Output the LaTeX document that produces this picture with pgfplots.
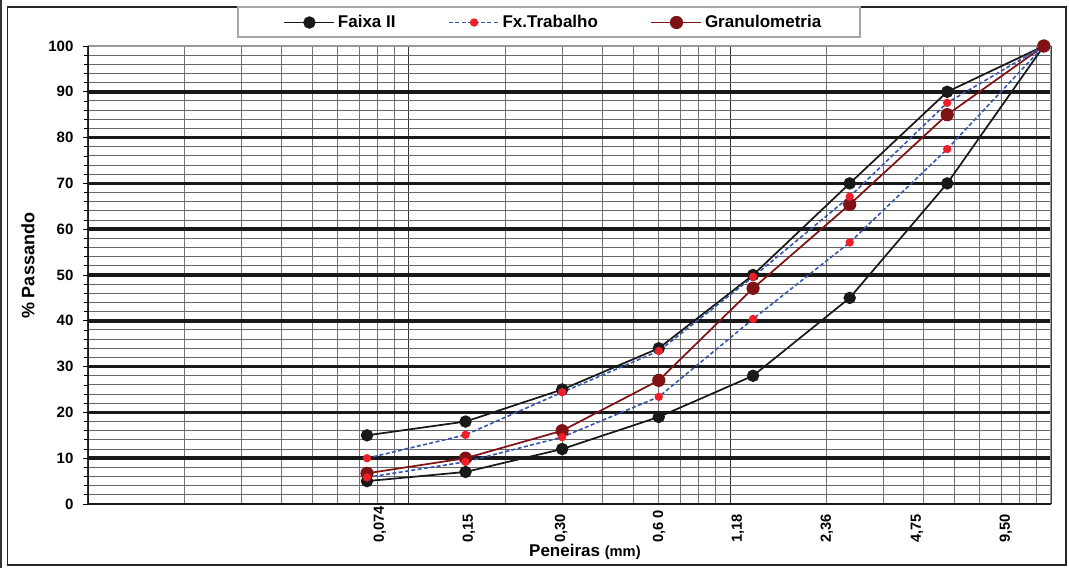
\documentclass[border=0pt]{standalone}
\usepackage{fontspec}
\setmainfont{Liberation Sans}
\usepackage{pgfplots}
\pgfplotsset{compat=1.18}
\definecolor{dred}{RGB}{128,18,22}
\definecolor{bred}{RGB}{240,30,40}
\definecolor{dblue}{RGB}{55,85,175}
\definecolor{blk}{RGB}{25,25,25}
\pgfplotsset{
  faixa/.style={blk, line width=1.3pt, mark=*, mark size=4pt, mark options={fill=blk, draw=blk, solid}},
  granu/.style={dred, line width=1.3pt, mark=*, mark size=4.3pt, mark options={fill=dred, draw=dred, solid}},
  trab/.style={dblue, line width=1.2pt, dash pattern=on 3pt off 1.8pt, mark=*, mark size=2.5pt, mark options={fill=bred, draw=bred, solid}},
}
\begin{document}
\begin{tikzpicture}
\useasboundingbox (0pt,0pt) rectangle (801.75pt,426pt);
\fill[white] (0pt,0pt) rectangle (801.75pt,426pt);
\draw[black!85, line width=1.2pt] (5.6pt,2.25pt) rectangle (799.5pt,420.75pt);
\draw[black!80, line width=0.8pt] (0.75pt,0pt) -- (0.75pt,426pt);
\draw[black!35, line width=1.2pt, fill=white] (178.5pt,398.25pt) rectangle (645pt,420.75pt);
\begin{axis}[
  at={(66pt,48pt)}, anchor=south west,
  scale only axis, width=722.25pt, height=343.5pt,
  xmode=log, xmin=0.01, xmax=10, ymin=0, ymax=100,
  axis line style={draw=none},
  xtick={0.01,0.1,1,10}, xticklabels={},
  minor xtick={0.02,0.03,0.04,0.05,0.06,0.07,0.08,0.09,0.2,0.3,0.4,0.5,0.6,0.7,0.8,0.9,2,3,4,5,6,7,8,9},
  xtick style={draw=none},
  xmajorgrids=true, xminorgrids=true,
  major x grid style={black!80, line width=0.75pt},
  minor x grid style={black!55, line width=0.7pt},
  ytick={10,20,...,90},
  extra y ticks={0,100},
  extra y tick style={grid=none},
  minor ytick={2,4,...,98},
  ymajorgrids=true, yminorgrids=true,
  major y grid style={black!90, line width=2.6pt},
  minor y grid style={black!60, line width=0.7pt},
  ytick pos=left, tick align=outside,
  major tick length=3.75pt, minor tick length=3pt,
  ytick style={black, line width=0.6pt},
  yticklabel style={font=\bfseries\fontsize{11.25}{13}\selectfont, anchor=east, inner sep=0pt},
  yticklabel shift=7pt,
  /pgf/number format/assume math mode=true,
  extra x ticks={0.0812,0.1538,0.2976,0.601,1.059,2.005,3.826,7.24},
  extra x tick labels={{0,074},{0,15},{0,30},{0,6 0},{1,18},{2,36},{4,75},{9,50}},
  extra x tick style={grid=none, major tick length=0pt, xticklabel style={rotate=90, anchor=west, inner sep=0pt, font=\bfseries\fontsize{11}{13}\selectfont}},
  xticklabel shift=29.25pt,
  xlabel={Peneiras {\fontsize{11}{13}\selectfont(mm)}},
  xlabel style={at={(axis description cs:0.516,-0.1048)}, anchor=center, font=\bfseries\fontsize{12.75}{15}\selectfont},
  ylabel={\% Passando},
  ylabel style={at={(axis description cs:-0.0623,0.5197)}, anchor=center, rotate=0, font=\bfseries\fontsize{13.5}{16}\selectfont},
  legend columns=3,
  legend image code/.code={\draw[mark repeat=2,mark phase=2,#1] plot coordinates {(0pt,0pt) (18.75pt,0pt) (37.5pt,0pt)};},
  legend style={at={(axis description cs:0.2028,1.0513)}, anchor=west, draw=none, fill=none, inner xsep=0pt, inner ysep=0pt,
    font=\bfseries\fontsize{12.75}{15}\selectfont, /tikz/every even column/.append style={column sep=37.5pt}},
]
\addlegendimage{faixa}\addlegendentry{Faixa II}
\addlegendimage{trab}\addlegendentry{Fx.Trabalho}
\addlegendimage{granu}\addlegendentry{Granulometria}
% plot area borders
\draw[black!40, line width=2.2pt] (rel axis cs:0,1) -- (rel axis cs:1,1);
\draw[black!40, line width=0.8pt] (rel axis cs:1,0) -- (rel axis cs:1,1);
\draw[black!45, line width=2pt] ([yshift=-0.9pt]rel axis cs:0,0) -- ([yshift=-0.9pt]rel axis cs:1,0);
\draw[blk, line width=0.8pt] (rel axis cs:0,0) -- (rel axis cs:1,0);
\draw[blk, line width=0.8pt] (rel axis cs:0,0) -- (rel axis cs:0,1);
% Faixa II
\addplot[faixa, forget plot] coordinates {(0.074,15) (0.15,18) (0.3,25) (0.6,34) (1.18,50) (2.36,70) (4.75,90) (9.5,100)};
\addplot[faixa, forget plot] coordinates {(0.074,5) (0.15,7) (0.3,12) (0.6,19) (1.18,28) (2.36,45) (4.75,70) (9.5,100)};
% Granulometria
\addplot[granu, forget plot] coordinates {(0.074,6.7) (0.15,10) (0.3,16) (0.6,27) (1.18,47.1) (2.36,65.4) (4.75,85) (9.5,100)};
% Fx.Trabalho
\addplot[trab, forget plot, mark indices={1,2,3,4,5,6,7}] coordinates {(0.074,10) (0.15,15.1) (0.3,24.4) (0.6,33.4) (1.18,49.6) (2.36,67.1) (4.75,87.6) (9.5,100)};
\addplot[trab, forget plot, mark indices={1,2,3,4,5,6,7}] coordinates {(0.074,5.8) (0.15,9.2) (0.3,14.6) (0.6,23.4) (1.18,40.4) (2.36,57.1) (4.75,77.5) (9.5,100)};
\end{axis}
\end{tikzpicture}
\end{document}
